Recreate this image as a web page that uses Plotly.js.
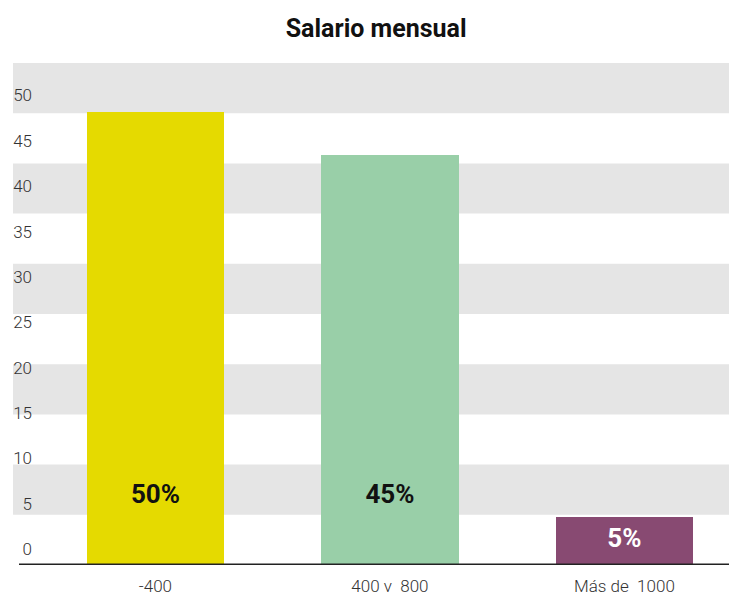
<!DOCTYPE html>
<html>
<head>
<meta charset="utf-8">
<script src="https://cdn.plot.ly/plotly-3.0.1.min.js"></script>
<style>
  html, body { margin: 0; padding: 0; background: #fff; }
  #chart { width: 729px; height: 597px; }
</style>
</head>
<body>
<div id="chart"></div>
<script>
var categorias = ['-400', '400 v\u00a0\u00a0800', 'Más de\u00a0\u00a01000'];
var valores = [50, 45.2, 5.3];
var etiquetas = ['50%', '45%', '5%'];
var colores = ['#e5da00', '#99cfa8', '#884a72'];
var coloresTexto = ['#111111', '#111111', '#ffffff'];
var ticksY = [0, 5, 10, 15, 20, 25, 30, 35, 40, 45, 50];

// posiciones de las categorias en el eje
var posX = categorias.map(function (c, i) { return i; });

// etiquetas: altura fija, o centradas si la barra es baja
var posEtiqueta = valores.map(function (v) { return Math.min(7.6, v / 2); });

var barras = {
  type: 'bar',
  x: posX,
  y: valores,
  width: 0.585,
  marker: { color: colores },
  hoverinfo: 'none',
  showlegend: false
};

var textos = {
  type: 'scatter',
  mode: 'text',
  x: posX,
  y: posEtiqueta,
  text: etiquetas,
  textposition: 'middle center',
  textfont: { family: 'Roboto', size: 26, weight: 700, color: coloresTexto },
  hoverinfo: 'none',
  showlegend: false
};

// franjas grises alternas
var franjas = [];
for (var i = 0; i < 10; i += 2) {
  franjas.push({
    type: 'rect', xref: 'paper', yref: 'paper',
    x0: -0.0287, x1: 1, y0: 1 - (i + 1) * 0.1, y1: 1 - i * 0.1,
    fillcolor: '#e5e5e5', line: { width: 0 }, layer: 'below'
  });
}
franjas.push({
  type: 'line', xref: 'paper', yref: 'y',
  x0: -0.0201, x1: 1, y0: 0, y1: 0,
  line: { color: '#222222', width: 3 }
});

var layout = {
  width: 729,
  height: 597,
  margin: { l: 33, r: 0, t: 63, b: 32 },
  paper_bgcolor: '#ffffff',
  plot_bgcolor: 'rgba(0,0,0,0)',
  font: { family: 'Roboto', color: '#333333' },
  title: {
    text: 'Salario mensual',
    x: 0.516, xref: 'container', xanchor: 'center',
    y: 0.953, yref: 'container', yanchor: 'middle',
    font: { family: 'Roboto', size: 25, weight: 700, color: '#111111' }
  },
  xaxis: {
    range: [-0.522, 2.446],
    tickmode: 'array',
    tickvals: posX,
    ticktext: categorias,
    showgrid: false,
    zeroline: false,
    showline: false,
    ticks: '',
    ticklabelstandoff: 9,
    tickfont: { size: 17, weight: 300, color: '#333333' },
    fixedrange: true
  },
  yaxis: {
    range: [0, 55.35],
    tickmode: 'array',
    tickvals: ticksY,
    showgrid: false,
    zeroline: false,
    showline: false,
    ticks: '',
    ticklabelshift: -16,
    tickfont: { size: 17, weight: 300, color: '#333333' },
    fixedrange: true
  },
  shapes: franjas,
  bargap: 0
};

Plotly.newPlot('chart', [barras, textos], layout, { displayModeBar: false, staticPlot: true });
</script>
</body>
</html>
